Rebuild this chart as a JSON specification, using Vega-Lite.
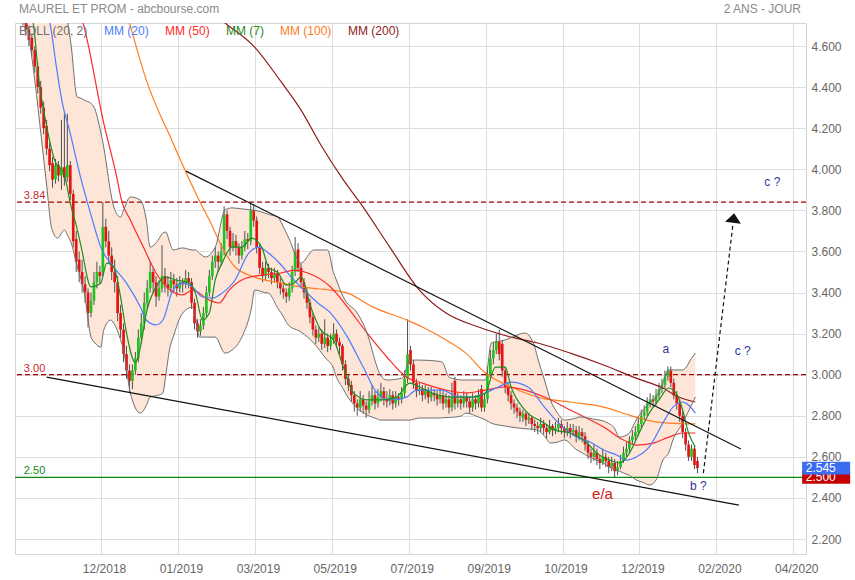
{
  "$schema": "https://vega.github.io/schema/vega-lite/v6.json",
  "width": 791,
  "height": 531,
  "autosize": {"type": "none"},
  "padding": {"left": 15, "top": 23, "right": 49, "bottom": 26},
  "background": "white",
  "config": {"font": "Liberation Sans", "view": {"stroke": "#d4d4d4", "strokeWidth": 1}},
  "datasets": {
    "k": [
      {"t":1,"o":4.78,"h":4.82,"l":4.70,"c":4.72},{"t":2,"o":4.72,"h":4.75,"l":4.65,"c":4.68},{"t":3,"o":4.68,"h":4.70,"l":4.60,"c":4.63},{"t":4,"o":4.64,"h":4.66,"l":4.55,"c":4.58},{"t":5,"o":4.58,"h":4.60,"l":4.47,"c":4.50},
      {"t":6,"o":4.50,"h":4.52,"l":4.37,"c":4.40},{"t":7,"o":4.40,"h":4.43,"l":4.27,"c":4.30},{"t":8,"o":4.30,"h":4.33,"l":4.17,"c":4.20},{"t":9,"o":4.21,"h":4.24,"l":4.07,"c":4.10},{"t":10,"o":4.10,"h":4.13,"l":3.99,"c":4.02},
      {"t":11,"o":4.03,"h":4.06,"l":3.91,"c":3.95},{"t":12,"o":3.95,"h":4.05,"l":3.93,"c":4.02},{"t":13,"o":4.02,"h":4.04,"l":3.94,"c":3.97},{"t":14,"o":3.97,"h":4.24,"l":3.90,"c":4.01},{"t":15,"o":4.01,"h":4.27,"l":3.92,"c":3.96},
      {"t":16,"o":3.96,"h":4.27,"l":3.94,"c":4.02},{"t":17,"o":4.02,"h":4.04,"l":3.85,"c":3.88},{"t":18,"o":3.88,"h":3.90,"l":3.62,"c":3.65},{"t":19,"o":3.66,"h":3.70,"l":3.50,"c":3.55},{"t":20,"o":3.56,"h":3.60,"l":3.45,"c":3.50},
      {"t":21,"o":3.50,"h":3.56,"l":3.40,"c":3.44},{"t":22,"o":3.44,"h":3.48,"l":3.35,"c":3.40},{"t":23,"o":3.40,"h":3.42,"l":3.23,"c":3.30},{"t":24,"o":3.30,"h":3.40,"l":3.28,"c":3.36},{"t":25,"o":3.36,"h":3.50,"l":3.34,"c":3.45},
      {"t":26,"o":3.45,"h":3.55,"l":3.42,"c":3.50},{"t":27,"o":3.50,"h":3.53,"l":3.44,"c":3.48},{"t":28,"o":3.50,"h":3.84,"l":3.48,"c":3.72},{"t":29,"o":3.72,"h":3.76,"l":3.62,"c":3.65},{"t":30,"o":3.65,"h":3.70,"l":3.54,"c":3.58},
      {"t":31,"o":3.58,"h":3.62,"l":3.46,"c":3.50},{"t":32,"o":3.50,"h":3.56,"l":3.40,"c":3.45},{"t":33,"o":3.45,"h":3.48,"l":3.26,"c":3.30},{"t":34,"o":3.30,"h":3.34,"l":3.18,"c":3.22},{"t":35,"o":3.22,"h":3.25,"l":3.06,"c":3.10},
      {"t":36,"o":3.10,"h":3.14,"l":2.98,"c":3.02},{"t":37,"o":3.02,"h":3.05,"l":2.91,"c":2.97},{"t":38,"o":2.97,"h":3.05,"l":2.93,"c":3.02},{"t":39,"o":3.02,"h":3.11,"l":3.00,"c":3.08},{"t":40,"o":3.08,"h":3.22,"l":3.06,"c":3.18},
      {"t":41,"o":3.18,"h":3.30,"l":3.15,"c":3.25},{"t":42,"o":3.25,"h":3.40,"l":3.22,"c":3.35},{"t":43,"o":3.35,"h":3.46,"l":3.32,"c":3.42},{"t":44,"o":3.42,"h":3.55,"l":3.40,"c":3.50},{"t":45,"o":3.50,"h":3.52,"l":3.40,"c":3.45},
      {"t":46,"o":3.45,"h":3.48,"l":3.33,"c":3.38},{"t":47,"o":3.38,"h":3.46,"l":3.36,"c":3.42},{"t":48,"o":3.42,"h":3.63,"l":3.40,"c":3.48},{"t":49,"o":3.48,"h":3.52,"l":3.40,"c":3.44},{"t":50,"o":3.44,"h":3.48,"l":3.38,"c":3.42},
      {"t":51,"o":3.42,"h":3.50,"l":3.40,"c":3.46},{"t":52,"o":3.46,"h":3.49,"l":3.40,"c":3.44},{"t":53,"o":3.44,"h":3.47,"l":3.38,"c":3.42},{"t":54,"o":3.42,"h":3.48,"l":3.40,"c":3.45},{"t":55,"o":3.45,"h":3.47,"l":3.40,"c":3.44},
      {"t":56,"o":3.44,"h":3.51,"l":3.42,"c":3.47},{"t":57,"o":3.47,"h":3.50,"l":3.42,"c":3.45},{"t":58,"o":3.45,"h":3.47,"l":3.32,"c":3.35},{"t":59,"o":3.35,"h":3.37,"l":3.22,"c":3.25},{"t":60,"o":3.25,"h":3.27,"l":3.18,"c":3.21},
      {"t":61,"o":3.21,"h":3.27,"l":3.19,"c":3.24},{"t":62,"o":3.24,"h":3.33,"l":3.22,"c":3.30},{"t":63,"o":3.30,"h":3.43,"l":3.28,"c":3.40},{"t":64,"o":3.40,"h":3.51,"l":3.38,"c":3.48},{"t":65,"o":3.48,"h":3.58,"l":3.46,"c":3.55},
      {"t":66,"o":3.55,"h":3.62,"l":3.52,"c":3.58},{"t":67,"o":3.58,"h":3.60,"l":3.50,"c":3.55},{"t":68,"o":3.55,"h":3.64,"l":3.53,"c":3.60},{"t":69,"o":3.60,"h":3.82,"l":3.58,"c":3.78},{"t":70,"o":3.78,"h":3.80,"l":3.66,"c":3.70},
      {"t":71,"o":3.70,"h":3.72,"l":3.58,"c":3.62},{"t":72,"o":3.62,"h":3.69,"l":3.60,"c":3.65},{"t":73,"o":3.65,"h":3.68,"l":3.58,"c":3.62},{"t":74,"o":3.62,"h":3.64,"l":3.54,"c":3.58},{"t":75,"o":3.58,"h":3.65,"l":3.56,"c":3.62},
      {"t":76,"o":3.62,"h":3.70,"l":3.60,"c":3.66},{"t":77,"o":3.66,"h":3.69,"l":3.61,"c":3.65},{"t":78,"o":3.65,"h":3.84,"l":3.63,"c":3.80},{"t":79,"o":3.80,"h":3.83,"l":3.72,"c":3.75},{"t":80,"o":3.75,"h":3.77,"l":3.59,"c":3.62},
      {"t":81,"o":3.62,"h":3.64,"l":3.49,"c":3.52},{"t":82,"o":3.52,"h":3.55,"l":3.45,"c":3.48},{"t":83,"o":3.48,"h":3.55,"l":3.46,"c":3.52},{"t":84,"o":3.52,"h":3.54,"l":3.47,"c":3.50},{"t":85,"o":3.50,"h":3.52,"l":3.44,"c":3.47},
      {"t":86,"o":3.47,"h":3.52,"l":3.45,"c":3.49},{"t":87,"o":3.49,"h":3.51,"l":3.42,"c":3.45},{"t":88,"o":3.45,"h":3.47,"l":3.39,"c":3.42},{"t":89,"o":3.42,"h":3.44,"l":3.37,"c":3.40},{"t":90,"o":3.40,"h":3.42,"l":3.35,"c":3.38},
      {"t":91,"o":3.38,"h":3.45,"l":3.36,"c":3.42},{"t":92,"o":3.42,"h":3.53,"l":3.40,"c":3.50},{"t":93,"o":3.50,"h":3.67,"l":3.48,"c":3.60},{"t":94,"o":3.61,"h":3.64,"l":3.50,"c":3.52},{"t":95,"o":3.52,"h":3.54,"l":3.42,"c":3.45},
      {"t":96,"o":3.45,"h":3.47,"l":3.37,"c":3.40},{"t":97,"o":3.40,"h":3.42,"l":3.32,"c":3.35},{"t":98,"o":3.35,"h":3.37,"l":3.25,"c":3.28},{"t":99,"o":3.28,"h":3.30,"l":3.19,"c":3.22},{"t":100,"o":3.22,"h":3.24,"l":3.15,"c":3.18},
      {"t":101,"o":3.18,"h":3.23,"l":3.16,"c":3.20},{"t":102,"o":3.20,"h":3.22,"l":3.12,"c":3.15},{"t":103,"o":3.15,"h":3.27,"l":3.13,"c":3.18},{"t":104,"o":3.18,"h":3.20,"l":3.11,"c":3.14},{"t":105,"o":3.14,"h":3.20,"l":3.12,"c":3.17},
      {"t":106,"o":3.17,"h":3.25,"l":3.15,"c":3.20},{"t":107,"o":3.20,"h":3.22,"l":3.13,"c":3.16},{"t":108,"o":3.16,"h":3.18,"l":3.10,"c":3.14},{"t":109,"o":3.14,"h":3.15,"l":3.02,"c":3.05},{"t":110,"o":3.05,"h":3.07,"l":2.95,"c":2.98},
      {"t":111,"o":2.98,"h":3.00,"l":2.92,"c":2.95},{"t":112,"o":2.95,"h":2.97,"l":2.87,"c":2.90},{"t":113,"o":2.90,"h":2.92,"l":2.82,"c":2.86},{"t":114,"o":2.86,"h":2.88,"l":2.80,"c":2.84},{"t":115,"o":2.84,"h":2.92,"l":2.82,"c":2.88},
      {"t":116,"o":2.88,"h":2.90,"l":2.81,"c":2.85},{"t":117,"o":2.85,"h":2.87,"l":2.79,"c":2.83},{"t":118,"o":2.83,"h":2.92,"l":2.81,"c":2.87},{"t":119,"o":2.87,"h":2.95,"l":2.85,"c":2.90},{"t":120,"o":2.90,"h":2.92,"l":2.83,"c":2.86},
      {"t":121,"o":2.86,"h":2.93,"l":2.84,"c":2.89},{"t":122,"o":2.89,"h":2.96,"l":2.87,"c":2.92},{"t":123,"o":2.92,"h":2.94,"l":2.85,"c":2.88},{"t":124,"o":2.88,"h":2.92,"l":2.84,"c":2.87},{"t":125,"o":2.87,"h":2.93,"l":2.85,"c":2.90},
      {"t":126,"o":2.90,"h":2.92,"l":2.83,"c":2.86},{"t":127,"o":2.86,"h":2.92,"l":2.84,"c":2.89},{"t":128,"o":2.89,"h":2.91,"l":2.85,"c":2.88},{"t":129,"o":2.88,"h":2.94,"l":2.86,"c":2.91},{"t":130,"o":2.91,"h":3.02,"l":2.89,"c":2.98},
      {"t":131,"o":2.98,"h":3.27,"l":2.96,"c":3.10},{"t":132,"o":3.12,"h":3.14,"l":3.02,"c":3.05},{"t":133,"o":3.05,"h":3.07,"l":2.93,"c":2.96},{"t":134,"o":2.96,"h":2.98,"l":2.89,"c":2.92},{"t":135,"o":2.92,"h":2.96,"l":2.90,"c":2.93},
      {"t":136,"o":2.93,"h":2.95,"l":2.87,"c":2.90},{"t":137,"o":2.90,"h":2.95,"l":2.88,"c":2.92},{"t":138,"o":2.92,"h":2.94,"l":2.86,"c":2.89},{"t":139,"o":2.89,"h":2.94,"l":2.87,"c":2.91},{"t":140,"o":2.91,"h":2.93,"l":2.87,"c":2.90},
      {"t":141,"o":2.90,"h":2.92,"l":2.85,"c":2.88},{"t":142,"o":2.88,"h":2.93,"l":2.86,"c":2.90},{"t":143,"o":2.90,"h":2.92,"l":2.83,"c":2.86},{"t":144,"o":2.86,"h":2.91,"l":2.84,"c":2.88},{"t":145,"o":2.88,"h":2.90,"l":2.81,"c":2.84},
      {"t":146,"o":2.84,"h":2.96,"l":2.82,"c":2.89},{"t":147,"o":2.97,"h":2.99,"l":2.83,"c":2.86},{"t":148,"o":2.86,"h":2.91,"l":2.84,"c":2.88},{"t":149,"o":2.88,"h":2.90,"l":2.83,"c":2.86},{"t":150,"o":2.86,"h":2.92,"l":2.84,"c":2.89},
      {"t":151,"o":2.89,"h":2.91,"l":2.84,"c":2.87},{"t":152,"o":2.87,"h":2.89,"l":2.81,"c":2.84},{"t":153,"o":2.84,"h":2.91,"l":2.82,"c":2.88},{"t":154,"o":2.88,"h":2.90,"l":2.83,"c":2.86},{"t":155,"o":2.86,"h":2.93,"l":2.84,"c":2.90},
      {"t":156,"o":2.93,"h":2.95,"l":2.82,"c":2.84},{"t":157,"o":2.84,"h":2.91,"l":2.82,"c":2.88},{"t":158,"o":2.88,"h":3.04,"l":2.86,"c":3.00},{"t":159,"o":3.00,"h":3.12,"l":2.98,"c":3.08},{"t":160,"o":3.08,"h":3.16,"l":3.05,"c":3.12},
      {"t":161,"o":3.12,"h":3.20,"l":3.10,"c":3.16},{"t":162,"o":3.16,"h":3.22,"l":3.07,"c":3.10},{"t":163,"o":3.15,"h":3.17,"l":2.99,"c":3.02},{"t":164,"o":3.02,"h":3.04,"l":2.91,"c":2.94},{"t":165,"o":2.94,"h":2.96,"l":2.87,"c":2.90},
      {"t":166,"o":2.90,"h":2.92,"l":2.83,"c":2.86},{"t":167,"o":2.86,"h":2.88,"l":2.81,"c":2.84},{"t":168,"o":2.84,"h":2.86,"l":2.79,"c":2.82},{"t":169,"o":2.82,"h":2.84,"l":2.77,"c":2.80},{"t":170,"o":2.79,"h":2.83,"l":2.77,"c":2.81},
      {"t":171,"o":2.81,"h":2.82,"l":2.75,"c":2.78},{"t":172,"o":2.78,"h":2.81,"l":2.76,"c":2.79},{"t":173,"o":2.79,"h":2.80,"l":2.73,"c":2.76},{"t":174,"o":2.76,"h":2.78,"l":2.72,"c":2.75},{"t":175,"o":2.75,"h":2.77,"l":2.71,"c":2.74},
      {"t":176,"o":2.74,"h":2.79,"l":2.72,"c":2.76},{"t":177,"o":2.76,"h":2.78,"l":2.71,"c":2.74},{"t":178,"o":2.74,"h":2.76,"l":2.69,"c":2.72},{"t":179,"o":2.72,"h":2.78,"l":2.71,"c":2.75},{"t":180,"o":2.75,"h":2.76,"l":2.70,"c":2.73},
      {"t":181,"o":2.73,"h":2.77,"l":2.71,"c":2.74},{"t":182,"o":2.74,"h":2.79,"l":2.72,"c":2.76},{"t":183,"o":2.76,"h":2.78,"l":2.71,"c":2.74},{"t":184,"o":2.74,"h":2.75,"l":2.69,"c":2.72},{"t":185,"o":2.72,"h":2.77,"l":2.70,"c":2.74},
      {"t":186,"o":2.74,"h":2.76,"l":2.69,"c":2.72},{"t":187,"o":2.72,"h":2.76,"l":2.70,"c":2.73},{"t":188,"o":2.73,"h":2.75,"l":2.67,"c":2.70},{"t":189,"o":2.70,"h":2.75,"l":2.68,"c":2.72},{"t":190,"o":2.72,"h":2.74,"l":2.67,"c":2.70},
      {"t":191,"o":2.70,"h":2.72,"l":2.63,"c":2.66},{"t":192,"o":2.66,"h":2.68,"l":2.59,"c":2.62},{"t":193,"o":2.62,"h":2.64,"l":2.57,"c":2.60},{"t":194,"o":2.60,"h":2.66,"l":2.58,"c":2.62},{"t":195,"o":2.62,"h":2.64,"l":2.56,"c":2.59},
      {"t":196,"o":2.59,"h":2.61,"l":2.54,"c":2.57},{"t":197,"o":2.57,"h":2.64,"l":2.56,"c":2.60},{"t":198,"o":2.60,"h":2.62,"l":2.55,"c":2.58},{"t":199,"o":2.58,"h":2.60,"l":2.52,"c":2.55},{"t":200,"o":2.55,"h":2.60,"l":2.53,"c":2.57},
      {"t":201,"o":2.57,"h":2.59,"l":2.50,"c":2.53},{"t":202,"o":2.53,"h":2.58,"l":2.51,"c":2.55},{"t":203,"o":2.55,"h":2.61,"l":2.54,"c":2.58},{"t":204,"o":2.58,"h":2.65,"l":2.57,"c":2.62},{"t":205,"o":2.62,"h":2.67,"l":2.60,"c":2.64},
      {"t":206,"o":2.64,"h":2.70,"l":2.62,"c":2.68},{"t":207,"o":2.68,"h":2.73,"l":2.66,"c":2.70},{"t":208,"o":2.70,"h":2.75,"l":2.68,"c":2.72},{"t":209,"o":2.72,"h":2.79,"l":2.70,"c":2.76},{"t":210,"o":2.76,"h":2.83,"l":2.74,"c":2.80},
      {"t":211,"o":2.80,"h":2.85,"l":2.78,"c":2.82},{"t":212,"o":2.82,"h":2.89,"l":2.80,"c":2.86},{"t":213,"o":2.86,"h":2.91,"l":2.84,"c":2.88},{"t":214,"o":2.88,"h":2.90,"l":2.84,"c":2.87},{"t":215,"o":2.87,"h":2.93,"l":2.85,"c":2.90},
      {"t":216,"o":2.90,"h":2.96,"l":2.88,"c":2.93},{"t":217,"o":2.93,"h":2.98,"l":2.91,"c":2.95},{"t":218,"o":2.95,"h":3.02,"l":2.93,"c":2.99},{"t":219,"o":2.99,"h":3.04,"l":2.97,"c":3.02},{"t":220,"o":3.02,"h":3.04,"l":2.94,"c":2.96},
      {"t":221,"o":2.96,"h":2.98,"l":2.88,"c":2.90},{"t":222,"o":2.90,"h":2.92,"l":2.83,"c":2.86},{"t":223,"o":2.86,"h":2.88,"l":2.77,"c":2.80},{"t":224,"o":2.80,"h":2.82,"l":2.69,"c":2.72},{"t":225,"o":2.72,"h":2.74,"l":2.63,"c":2.66},
      {"t":226,"o":2.66,"h":2.68,"l":2.58,"c":2.60},{"t":227,"o":2.60,"h":2.66,"l":2.58,"c":2.64},{"t":228,"o":2.64,"h":2.65,"l":2.54,"c":2.56},{"t":229,"o":2.58,"h":2.60,"l":2.52,"c":2.545}
    ],
    "boll": [
      {"t":1.7,"up":5.6,"lo":4.775},{"t":5,"up":5.4,"lo":4.434},{"t":7.3,"up":5.25,"lo":4.142},{"t":9,"up":5.15,"lo":3.923},{"t":10.7,"up":5.05,"lo":3.714},
      {"t":12.7,"up":4.93,"lo":3.665},{"t":15,"up":4.824,"lo":3.704},{"t":16,"up":4.727,"lo":3.68},{"t":17.3,"up":4.6,"lo":3.641},{"t":19.3,"up":4.352,"lo":3.53},
      {"t":20.7,"up":4.345,"lo":3.461},{"t":21.7,"up":4.337,"lo":3.4},{"t":24,"up":4.32,"lo":3.183},{"t":25,"up":4.303,"lo":3.16},{"t":27.3,"up":4.18,"lo":3.134},
      {"t":28.3,"up":4.108,"lo":3.217},{"t":30.7,"up":3.884,"lo":3.266},{"t":31.7,"up":3.816,"lo":3.25},{"t":34,"up":3.767,"lo":3.17},{"t":35,"up":3.8,"lo":3.12},
      {"t":37.3,"up":3.865,"lo":2.911},{"t":40.7,"up":3.85,"lo":2.813},{"t":42.7,"up":3.753,"lo":2.85},{"t":44,"up":3.621,"lo":2.891},{"t":46.7,"up":3.655,"lo":2.9},
      {"t":48.3,"up":3.69,"lo":2.911},{"t":49.3,"up":3.694,"lo":3.0},{"t":50.7,"up":3.64,"lo":3.134},{"t":51.7,"up":3.607,"lo":3.18},{"t":55,"up":3.617,"lo":3.3},
      {"t":58.3,"up":3.607,"lo":3.329},{"t":59.3,"up":3.607,"lo":3.28},{"t":60.7,"up":3.59,"lo":3.183},{"t":62.7,"up":3.573,"lo":3.183},{"t":66,"up":3.621,"lo":3.183},
      {"t":69.3,"up":3.802,"lo":3.105},{"t":71.7,"up":3.812,"lo":3.12},{"t":75,"up":3.807,"lo":3.183},{"t":78.3,"up":3.802,"lo":3.33},{"t":79.3,"up":3.8,"lo":3.412},
      {"t":82.7,"up":3.787,"lo":3.4},{"t":84,"up":3.78,"lo":3.397},{"t":87.3,"up":3.767,"lo":3.32},{"t":88.3,"up":3.74,"lo":3.3},{"t":90.7,"up":3.67,"lo":3.242},
      {"t":95,"up":3.543,"lo":3.208},{"t":99.3,"up":3.607,"lo":3.154},{"t":103.3,"up":3.607,"lo":3.081},{"t":104,"up":3.607,"lo":3.07},{"t":106,"up":3.495,"lo":3.03},
      {"t":106.7,"up":3.47,"lo":2.998},{"t":109.3,"up":3.378,"lo":2.93},{"t":110,"up":3.36,"lo":2.911},{"t":114,"up":3.3,"lo":2.837},{"t":117.3,"up":3.203,"lo":2.804},
      {"t":120.7,"up":3.037,"lo":2.785},{"t":121.7,"up":3.0,"lo":2.779},{"t":124,"up":2.974,"lo":2.779},{"t":129.3,"up":2.984,"lo":2.779},{"t":131.7,"up":3.071,"lo":2.779},
      {"t":135,"up":3.071,"lo":2.789},{"t":141.7,"up":3.065,"lo":2.789},{"t":142.7,"up":3.061,"lo":2.79},{"t":145,"up":2.988,"lo":2.792},{"t":147.3,"up":2.978,"lo":2.794},
      {"t":149.3,"up":2.974,"lo":2.8},{"t":150.7,"up":2.974,"lo":2.813},{"t":155,"up":2.974,"lo":2.794},{"t":157.3,"up":2.974,"lo":2.78},{"t":159.3,"up":3.154,"lo":2.764},
      {"t":164,"up":3.169,"lo":2.75},{"t":166,"up":3.18,"lo":2.745},{"t":170.7,"up":3.203,"lo":2.737},{"t":174,"up":3.134,"lo":2.733},{"t":175,"up":3.08,"lo":2.73},
      {"t":177.3,"up":2.974,"lo":2.7},{"t":179.3,"up":2.877,"lo":2.667},{"t":181.7,"up":2.813,"lo":2.672},{"t":184,"up":2.779,"lo":2.682},{"t":188.3,"up":2.79,"lo":2.633},
      {"t":189.3,"up":2.794,"lo":2.625},{"t":195,"up":2.781,"lo":2.584},{"t":196,"up":2.779,"lo":2.58},{"t":199.3,"up":2.76,"lo":2.55},{"t":200.7,"up":2.745,"lo":2.54},
      {"t":202.7,"up":2.696,"lo":2.53},{"t":204,"up":2.7,"lo":2.521},{"t":206,"up":2.716,"lo":2.51},{"t":208.3,"up":2.78,"lo":2.487},{"t":210.7,"up":2.828,"lo":2.475},
      {"t":212.7,"up":2.86,"lo":2.463},{"t":215,"up":2.891,"lo":2.487},{"t":217.3,"up":2.96,"lo":2.584},{"t":219.3,"up":3.023,"lo":2.62},{"t":220.7,"up":3.023,"lo":2.682},
      {"t":224,"up":3.023,"lo":2.764},{"t":227.3,"up":3.086,"lo":2.862},{"t":228.3,"up":3.105,"lo":2.891}
    ],
    "mm": [
      {"s":"MM (200)","t":61.7,"v":4.805},{"s":"MM (200)","t":69.3,"v":4.712},{"s":"MM (200)","t":79.3,"v":4.595},{"s":"MM (200)","t":88.3,"v":4.425},{"s":"MM (200)","t":95,"v":4.288},
      {"s":"MM (200)","t":101.7,"v":4.118},{"s":"MM (200)","t":109.3,"v":3.948},{"s":"MM (200)","t":115,"v":3.836},{"s":"MM (200)","t":125,"v":3.621},{"s":"MM (200)","t":135,"v":3.412},
      {"s":"MM (200)","t":144,"v":3.3},{"s":"MM (200)","t":155,"v":3.232},{"s":"MM (200)","t":166,"v":3.183},{"s":"MM (200)","t":175,"v":3.154},{"s":"MM (200)","t":186,"v":3.105},
      {"s":"MM (200)","t":197.3,"v":3.047},{"s":"MM (200)","t":208.3,"v":2.983},{"s":"MM (200)","t":217.3,"v":2.935},{"s":"MM (200)","t":222.7,"v":2.891},{"s":"MM (200)","t":228.3,"v":2.867},

      {"s":"MM (100)","t":34.7,"v":4.824},{"s":"MM (100)","t":36.7,"v":4.727},{"s":"MM (100)","t":42.7,"v":4.434},{"s":"MM (100)","t":51.7,"v":4.128},{"s":"MM (100)","t":57.3,"v":3.948},
      {"s":"MM (100)","t":61.7,"v":3.816},{"s":"MM (100)","t":64,"v":3.753},{"s":"MM (100)","t":68.3,"v":3.621},{"s":"MM (100)","t":72.7,"v":3.524},{"s":"MM (100)","t":79.3,"v":3.475},
      {"s":"MM (100)","t":88.3,"v":3.446},{"s":"MM (100)","t":95,"v":3.427},{"s":"MM (100)","t":105,"v":3.412},{"s":"MM (100)","t":110.7,"v":3.397},{"s":"MM (100)","t":119.3,"v":3.329},
      {"s":"MM (100)","t":130.7,"v":3.266},{"s":"MM (100)","t":136,"v":3.232},{"s":"MM (100)","t":144,"v":3.169},{"s":"MM (100)","t":150.7,"v":3.105},{"s":"MM (100)","t":157.3,"v":3.008},
      {"s":"MM (100)","t":166,"v":2.94},{"s":"MM (100)","t":175,"v":2.891},{"s":"MM (100)","t":186,"v":2.867},{"s":"MM (100)","t":197.3,"v":2.842},{"s":"MM (100)","t":206,"v":2.803},
      {"s":"MM (100)","t":211.7,"v":2.779},{"s":"MM (100)","t":219.3,"v":2.764},{"s":"MM (100)","t":228.3,"v":2.76},

      {"s":"MM (50)","t":18.3,"v":4.824},{"s":"MM (50)","t":21,"v":4.727},{"s":"MM (50)","t":28.3,"v":4.225},{"s":"MM (50)","t":32.7,"v":3.962},{"s":"MM (50)","t":34.3,"v":3.85},
      {"s":"MM (50)","t":37.3,"v":3.753},{"s":"MM (50)","t":41.7,"v":3.621},{"s":"MM (50)","t":46,"v":3.495},{"s":"MM (50)","t":50.7,"v":3.412},{"s":"MM (50)","t":55,"v":3.388},
      {"s":"MM (50)","t":58.3,"v":3.412},{"s":"MM (50)","t":64,"v":3.363},{"s":"MM (50)","t":67.3,"v":3.349},{"s":"MM (50)","t":70.7,"v":3.412},{"s":"MM (50)","t":75,"v":3.461},
      {"s":"MM (50)","t":81.7,"v":3.485},{"s":"MM (50)","t":88.3,"v":3.495},{"s":"MM (50)","t":92.7,"v":3.509},{"s":"MM (50)","t":97.3,"v":3.495},{"s":"MM (50)","t":105,"v":3.427},
      {"s":"MM (50)","t":110.7,"v":3.329},{"s":"MM (50)","t":117.3,"v":3.203},{"s":"MM (50)","t":124,"v":3.086},{"s":"MM (50)","t":130.7,"v":2.988},{"s":"MM (50)","t":136,"v":2.959},
      {"s":"MM (50)","t":144,"v":2.925},{"s":"MM (50)","t":150.7,"v":2.911},{"s":"MM (50)","t":157.3,"v":2.925},{"s":"MM (50)","t":164,"v":2.94},{"s":"MM (50)","t":170.7,"v":2.925},
      {"s":"MM (50)","t":177.3,"v":2.891},{"s":"MM (50)","t":186,"v":2.828},{"s":"MM (50)","t":197.3,"v":2.745},{"s":"MM (50)","t":204,"v":2.682},{"s":"MM (50)","t":208.3,"v":2.657},
      {"s":"MM (50)","t":214,"v":2.667},{"s":"MM (50)","t":219.3,"v":2.696},{"s":"MM (50)","t":224,"v":2.716},{"s":"MM (50)","t":228.3,"v":2.716},

      {"s":"MM (20)","t":9.8,"v":4.736},{"s":"MM (20)","t":10.7,"v":4.663},{"s":"MM (20)","t":12.3,"v":4.498},{"s":"MM (20)","t":14.3,"v":4.323},{"s":"MM (20)","t":16.7,"v":4.191},
      {"s":"MM (20)","t":20.7,"v":3.948},{"s":"MM (20)","t":24,"v":3.777},{"s":"MM (20)","t":27.3,"v":3.621},{"s":"MM (20)","t":31.7,"v":3.524},{"s":"MM (20)","t":36,"v":3.446},
      {"s":"MM (20)","t":40.7,"v":3.329},{"s":"MM (20)","t":42.7,"v":3.266},{"s":"MM (20)","t":46,"v":3.242},{"s":"MM (20)","t":48.3,"v":3.266},{"s":"MM (20)","t":51.7,"v":3.412},
      {"s":"MM (20)","t":55,"v":3.446},{"s":"MM (20)","t":58.3,"v":3.427},{"s":"MM (20)","t":61.7,"v":3.378},{"s":"MM (20)","t":65,"v":3.373},{"s":"MM (20)","t":68.3,"v":3.397},
      {"s":"MM (20)","t":72.7,"v":3.461},{"s":"MM (20)","t":77.3,"v":3.592},{"s":"MM (20)","t":80.7,"v":3.621},{"s":"MM (20)","t":84,"v":3.592},{"s":"MM (20)","t":88.3,"v":3.534},
      {"s":"MM (20)","t":91.7,"v":3.475},{"s":"MM (20)","t":96,"v":3.412},{"s":"MM (20)","t":100.7,"v":3.349},{"s":"MM (20)","t":105,"v":3.3},{"s":"MM (20)","t":110.7,"v":3.183},
      {"s":"MM (20)","t":116,"v":3.037},{"s":"MM (20)","t":120.7,"v":2.911},{"s":"MM (20)","t":125,"v":2.877},{"s":"MM (20)","t":130.7,"v":2.891},{"s":"MM (20)","t":134,"v":2.925},
      {"s":"MM (20)","t":138.3,"v":2.925},{"s":"MM (20)","t":142.7,"v":2.925},{"s":"MM (20)","t":148.3,"v":2.891},{"s":"MM (20)","t":152.7,"v":2.891},{"s":"MM (20)","t":157.3,"v":2.911},
      {"s":"MM (20)","t":161.7,"v":2.94},{"s":"MM (20)","t":166,"v":2.964},{"s":"MM (20)","t":171.7,"v":2.94},{"s":"MM (20)","t":177.3,"v":2.842},{"s":"MM (20)","t":181.7,"v":2.769},
      {"s":"MM (20)","t":188.3,"v":2.696},{"s":"MM (20)","t":192.7,"v":2.672},{"s":"MM (20)","t":197.3,"v":2.633},{"s":"MM (20)","t":201.7,"v":2.609},{"s":"MM (20)","t":205,"v":2.584},
      {"s":"MM (20)","t":208.3,"v":2.599},{"s":"MM (20)","t":212.7,"v":2.648},{"s":"MM (20)","t":217.3,"v":2.764},{"s":"MM (20)","t":220.7,"v":2.842},{"s":"MM (20)","t":224,"v":2.867},
      {"s":"MM (20)","t":228.3,"v":2.813},

      {"s":"MM (7)","t":3,"v":4.775},{"s":"MM (7)","t":4.3,"v":4.727},{"s":"MM (7)","t":6.7,"v":4.4},{"s":"MM (7)","t":8.3,"v":4.264},{"s":"MM (7)","t":11.7,"v":4.045},
      {"s":"MM (7)","t":15,"v":3.972},{"s":"MM (7)","t":17.3,"v":3.816},{"s":"MM (7)","t":19,"v":3.728},{"s":"MM (7)","t":20.7,"v":3.621},{"s":"MM (7)","t":24,"v":3.427},
      {"s":"MM (7)","t":27.3,"v":3.446},{"s":"MM (7)","t":29.3,"v":3.543},{"s":"MM (7)","t":31.7,"v":3.524},{"s":"MM (7)","t":34,"v":3.378},{"s":"MM (7)","t":36,"v":3.203},
      {"s":"MM (7)","t":39,"v":3.057},{"s":"MM (7)","t":40.7,"v":3.134},{"s":"MM (7)","t":42.7,"v":3.3},{"s":"MM (7)","t":46,"v":3.427},{"s":"MM (7)","t":49.3,"v":3.475},
      {"s":"MM (7)","t":52.7,"v":3.461},{"s":"MM (7)","t":57.3,"v":3.446},{"s":"MM (7)","t":59.3,"v":3.397},{"s":"MM (7)","t":61.7,"v":3.266},{"s":"MM (7)","t":64,"v":3.3},
      {"s":"MM (7)","t":66,"v":3.461},{"s":"MM (7)","t":68.3,"v":3.543},{"s":"MM (7)","t":71.7,"v":3.621},{"s":"MM (7)","t":75,"v":3.621},{"s":"MM (7)","t":78.3,"v":3.665},
      {"s":"MM (7)","t":81.7,"v":3.621},{"s":"MM (7)","t":84,"v":3.524},{"s":"MM (7)","t":87.3,"v":3.495},{"s":"MM (7)","t":90,"v":3.436},{"s":"MM (7)","t":92.7,"v":3.446},
      {"s":"MM (7)","t":95,"v":3.475},{"s":"MM (7)","t":98.3,"v":3.329},{"s":"MM (7)","t":101.7,"v":3.217},{"s":"MM (7)","t":106,"v":3.169},{"s":"MM (7)","t":109.3,"v":3.037},
      {"s":"MM (7)","t":112.7,"v":2.911},{"s":"MM (7)","t":117.3,"v":2.877},{"s":"MM (7)","t":121.7,"v":2.877},{"s":"MM (7)","t":127.3,"v":2.891},{"s":"MM (7)","t":131.7,"v":2.959},
      {"s":"MM (7)","t":135,"v":2.94},{"s":"MM (7)","t":139.3,"v":2.911},{"s":"MM (7)","t":146,"v":2.891},{"s":"MM (7)","t":152.7,"v":2.891},{"s":"MM (7)","t":157.3,"v":2.911},
      {"s":"MM (7)","t":160.7,"v":3.037},{"s":"MM (7)","t":164,"v":3.037},{"s":"MM (7)","t":166,"v":2.94},{"s":"MM (7)","t":170.7,"v":2.828},{"s":"MM (7)","t":177.3,"v":2.764},
      {"s":"MM (7)","t":180.7,"v":2.73},{"s":"MM (7)","t":186,"v":2.716},{"s":"MM (7)","t":191.7,"v":2.667},{"s":"MM (7)","t":195,"v":2.618},{"s":"MM (7)","t":199.3,"v":2.584},
      {"s":"MM (7)","t":202.7,"v":2.57},{"s":"MM (7)","t":206,"v":2.618},{"s":"MM (7)","t":209.3,"v":2.716},{"s":"MM (7)","t":212.7,"v":2.813},{"s":"MM (7)","t":216,"v":2.877},
      {"s":"MM (7)","t":219.3,"v":2.935},{"s":"MM (7)","t":221.7,"v":2.911},{"s":"MM (7)","t":224,"v":2.828},{"s":"MM (7)","t":226,"v":2.716},{"s":"MM (7)","t":228.3,"v":2.648}
    ],
    "levels": [{"v": 3.84}, {"v": 3.0}, {"v": 2.5}],
    "trend": [
      {"t": 56.1, "v": 3.991, "t2": 243.7, "v2": 2.638, "kind": "channel"},
      {"t": 9.0, "v": 2.988, "t2": 243.0, "v2": 2.365, "kind": "channel"},
      {"t": 231.0, "v": 2.521, "t2": 241.0, "v2": 3.733, "kind": "target"}
    ],
    "arrow": [{"t": 241.2, "v": 3.763}],
    "notes": [
      {"label": "a", "t": 218.3, "v": 3.125, "kind": "wave"},
      {"label": "c ?", "t": 244.3, "v": 3.115, "kind": "wave"},
      {"label": "c ?", "t": 254.3, "v": 3.938, "kind": "wave"},
      {"label": "b ?", "t": 229.3, "v": 2.458, "kind": "wave"},
      {"label": "e/a", "t": 196.9, "v": 2.419, "kind": "count"}
    ],
    "tags": [
      {"label": "2.500", "price": 2.5, "kind": "support"},
      {"label": "2.545", "price": 2.545, "kind": "last"}
    ],
    "heads": [
      {"label": "MAUREL ET PROM - abcbourse.com", "side": "left"},
      {"label": "2 ANS - JOUR", "side": "right"}
    ]
  },
  "layer": [
    {
      "data": {"name": "boll"},
      "mark": {"type": "area", "color": "#fde6d8", "clip": true, "interpolate": "monotone"},
      "encoding": {
        "x": {"field": "t", "type": "quantitative", "scale": {"domain": [0, 264], "nice": false, "zero": false},
          "axis": {"title": null, "values": [27.4, 53.4, 79.4, 105.4, 131.4, 157.4, 183.4, 209.4, 235.4, 261.4],
            "labelExpr": "['12/2018','01/2019','03/2019','05/2019','07/2019','09/2019','10/2019','12/2019','02/2020','04/2020'][round((datum.value - 27.4) / 26)]",
            "grid": true, "gridColor": "#dddddd", "domain": false, "ticks": false, "labelFontSize": 12, "labelColor": "#666666", "labelPadding": 9, "labelOffset": 3}},
        "y": {"field": "up", "type": "quantitative", "scale": {"domain": [2.127, 4.712], "nice": false, "zero": false},
          "axis": {"title": null, "orient": "right", "values": [2.2, 2.4, 2.6, 2.8, 3.0, 3.2, 3.4, 3.6, 3.8, 4.0, 4.2, 4.4, 4.6], "format": ".3f",
            "grid": true, "gridColor": "#dddddd", "domain": false, "ticks": false, "labelPadding": 5, "labelFontSize": 12, "labelColor": "#666666"}},
        "y2": {"field": "lo"}
      }
    },
    {
      "data": {"name": "levels"},
      "transform": [{"filter": "datum.v > 2.6"}],
      "mark": {"type": "rule", "color": "#a80000", "strokeDash": [5, 3], "strokeWidth": 1.2},
      "encoding": {"y": {"field": "v", "type": "quantitative", "title": null}}
    },
    {
      "data": {"name": "levels"},
      "transform": [{"filter": "datum.v < 2.6"}],
      "mark": {"type": "rule", "color": "#0b8a0b", "strokeWidth": 1.2},
      "encoding": {"y": {"field": "v", "type": "quantitative", "title": null}}
    },
    {
      "data": {"name": "levels"},
      "mark": {"type": "text", "align": "left", "baseline": "bottom", "dy": -1, "fontSize": 11},
      "encoding": {
        "x": {"datum": 1.3, "type": "quantitative", "title": null},
        "y": {"field": "v", "type": "quantitative", "title": null},
        "text": {"field": "v", "type": "quantitative", "format": ".2f"},
        "color": {"condition": {"test": "datum.v < 2.6", "value": "#138a13"}, "value": "#c82a2a"}
      }
    },
    {
      "data": {"name": "k"},
      "mark": {"type": "rule", "color": "#505050", "strokeWidth": 1, "clip": true},
      "encoding": {
        "x": {"field": "t", "type": "quantitative", "title": null},
        "y": {"field": "l", "type": "quantitative", "title": null},
        "y2": {"field": "h"}
      }
    },
    {
      "data": {"name": "k"},
      "mark": {"type": "bar", "width": 2.7, "clip": true},
      "encoding": {
        "x": {"field": "t", "type": "quantitative", "title": null},
        "y": {"field": "o", "type": "quantitative", "title": null},
        "y2": {"field": "c"},
        "color": {"condition": {"test": "datum.c >= datum.o", "value": "#1fc41f"}, "value": "#e41414"}
      }
    },
    {
      "data": {"name": "mm"},
      "mark": {"type": "line", "strokeWidth": 1.2, "clip": true, "interpolate": "monotone"},
      "encoding": {
        "x": {"field": "t", "type": "quantitative", "title": null},
        "y": {"field": "v", "type": "quantitative", "title": null},
        "color": {"field": "s", "type": "nominal",
          "scale": {"domain": ["BOLL (20, 2)", "MM (20)", "MM (50)", "MM (7)", "MM (100)", "MM (200)"],
                    "range": ["#707070", "#4d7cff", "#ff2a2a", "#1e8c1e", "#ff7d1f", "#8e1c1c"]},
          "legend": {"orient": "none", "legendX": -8, "legendY": 2, "direction": "horizontal", "title": null,
            "symbolSize": 0, "symbolStrokeWidth": 0, "symbolOpacity": 0, "labelOffset": 0, "columnPadding": 4,
            "labelFontSize": 12, "padding": 0, "labelColor": {"expr": "scale('color', datum.value)"}}}
      }
    },
    {
      "data": {"name": "boll"},
      "mark": {"type": "line", "color": "#6f6f6f", "strokeWidth": 1, "clip": true, "interpolate": "monotone"},
      "encoding": {
        "x": {"field": "t", "type": "quantitative", "title": null},
        "y": {"field": "up", "type": "quantitative", "title": null}
      }
    },
    {
      "data": {"name": "boll"},
      "mark": {"type": "line", "color": "#6f6f6f", "strokeWidth": 1, "clip": true, "interpolate": "monotone"},
      "encoding": {
        "x": {"field": "t", "type": "quantitative", "title": null},
        "y": {"field": "lo", "type": "quantitative", "title": null}
      }
    },
    {
      "data": {"name": "trend"},
      "transform": [{"filter": "datum.kind == 'channel'"}],
      "mark": {"type": "rule", "color": "#111111", "strokeWidth": 1.2, "clip": true},
      "encoding": {
        "x": {"field": "t", "type": "quantitative", "title": null},
        "x2": {"field": "t2"},
        "y": {"field": "v", "type": "quantitative", "title": null},
        "y2": {"field": "v2"}
      }
    },
    {
      "data": {"name": "trend"},
      "transform": [{"filter": "datum.kind == 'target'"}],
      "mark": {"type": "rule", "color": "#111111", "strokeWidth": 1.2, "strokeDash": [4, 3], "clip": true},
      "encoding": {
        "x": {"field": "t", "type": "quantitative", "title": null},
        "x2": {"field": "t2"},
        "y": {"field": "v", "type": "quantitative", "title": null},
        "y2": {"field": "v2"}
      }
    },
    {
      "data": {"name": "arrow"},
      "mark": {"type": "point", "shape": "M0,-0.6L1,0.6L-1,0.6Z", "size": 256, "angle": 7, "filled": true, "color": "#111111", "opacity": 1},
      "encoding": {
        "x": {"field": "t", "type": "quantitative", "title": null},
        "y": {"field": "v", "type": "quantitative", "title": null}
      }
    },
    {
      "data": {"name": "notes"},
      "mark": {"type": "text", "align": "center", "baseline": "middle"},
      "encoding": {
        "x": {"field": "t", "type": "quantitative", "title": null},
        "y": {"field": "v", "type": "quantitative", "title": null},
        "text": {"field": "label"},
        "color": {"condition": {"test": "datum.kind == 'count'", "value": "#cc2020"}, "value": "#33339a"},
        "size": {"condition": {"test": "datum.kind == 'count'", "value": 15}, "value": 12}
      }
    },
    {
      "data": {"name": "heads"},
      "transform": [{"filter": "datum.side == 'left'"}],
      "mark": {"type": "text", "align": "left", "baseline": "alphabetic", "fontSize": 12, "color": "#8a8a8a"},
      "encoding": {
        "x": {"datum": -0.3, "type": "quantitative", "title": null},
        "y": {"datum": 4.761, "type": "quantitative", "title": null},
        "text": {"field": "label"}
      }
    },
    {
      "data": {"name": "heads"},
      "transform": [{"filter": "datum.side == 'right'"}],
      "mark": {"type": "text", "align": "right", "baseline": "alphabetic", "fontSize": 12, "color": "#8a8a8a"},
      "encoding": {
        "x": {"datum": 264, "type": "quantitative", "title": null},
        "y": {"datum": 4.761, "type": "quantitative", "title": null},
        "text": {"field": "label"}
      }
    },
    {
      "data": {"name": "tags"},
      "transform": [{"filter": "datum.kind == 'support'"}],
      "mark": {"type": "point", "shape": "M-1,-0.27L1,-0.27L1,0.27L-1,0.27Z", "size": 2304, "filled": true, "color": "#c40000", "opacity": 1},
      "encoding": {
        "x": {"datum": 272.5, "type": "quantitative", "title": null},
        "y": {"field": "price", "type": "quantitative", "title": null}
      }
    },
    {
      "data": {"name": "tags"},
      "transform": [{"filter": "datum.kind == 'support'"}],
      "mark": {"type": "text", "align": "left", "baseline": "middle", "color": "white", "fontSize": 12},
      "encoding": {
        "x": {"datum": 265.6, "type": "quantitative", "title": null},
        "y": {"field": "price", "type": "quantitative", "title": null},
        "text": {"field": "label"}
      }
    },
    {
      "data": {"name": "tags"},
      "transform": [{"filter": "datum.kind == 'last'"}],
      "mark": {"type": "point", "shape": "M-1,-0.27L1,-0.27L1,0.27L-1,0.27Z", "size": 2304, "filled": true, "color": "#3b6cf0", "opacity": 1},
      "encoding": {
        "x": {"datum": 272.5, "type": "quantitative", "title": null},
        "y": {"field": "price", "type": "quantitative", "title": null}
      }
    },
    {
      "data": {"name": "tags"},
      "transform": [{"filter": "datum.kind == 'last'"}],
      "mark": {"type": "text", "align": "left", "baseline": "middle", "color": "white", "fontSize": 12},
      "encoding": {
        "x": {"datum": 265.6, "type": "quantitative", "title": null},
        "y": {"field": "price", "type": "quantitative", "title": null},
        "text": {"field": "label"}
      }
    }
  ]
}
